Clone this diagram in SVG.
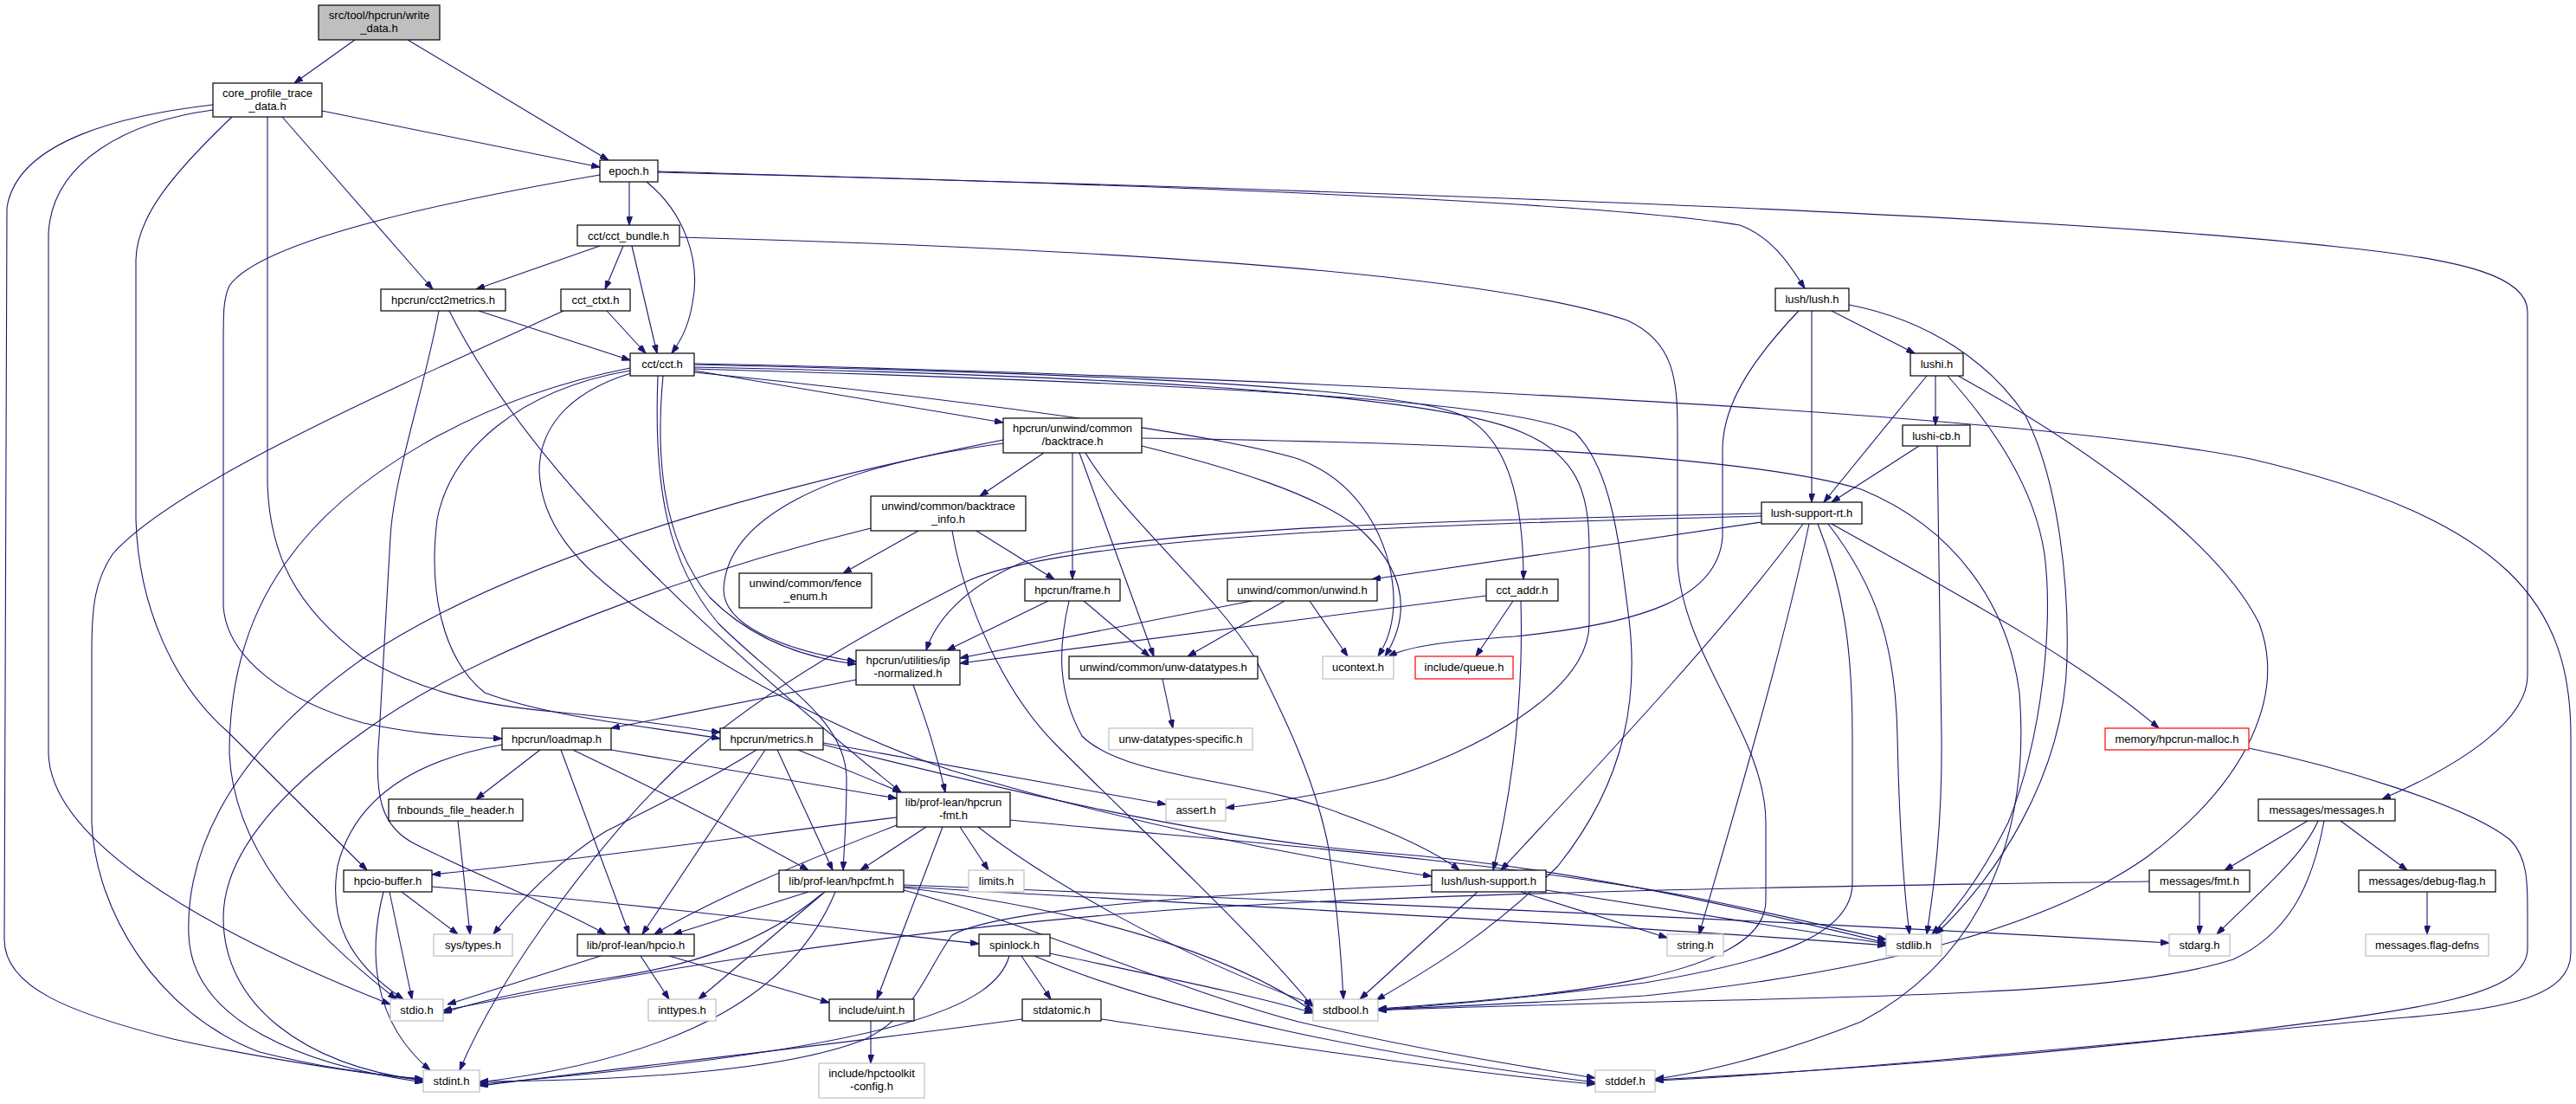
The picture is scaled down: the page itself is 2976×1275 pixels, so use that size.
<svg xmlns="http://www.w3.org/2000/svg" width="2976" height="1275" viewBox="0 0 2976 1275">
<defs>
<style>
.e path{fill:none;stroke:#191970;stroke-width:1.1;marker-end:url(#a)}
.n rect{fill:#fff;stroke:#000;stroke-width:1.2}
.g rect{stroke:#bfbfbf}
.r rect{stroke:#ff0000}
.root rect{fill:#bfbfbf}
text{font-family:"Liberation Sans",Arial,sans-serif;font-size:13px;text-anchor:middle;fill:#000}
</style>
<marker id="a" viewBox="0 0 10 7" refX="10" refY="3.5" markerWidth="10" markerHeight="7" markerUnits="userSpaceOnUse" orient="auto"><path d="M0,0 L10,3.5 L0,7 z" fill="#191970" stroke="#191970" stroke-width="1"/></marker>
</defs>
<rect width="2976" height="1275" fill="#fff"/>
<g id="edges" class="e">
<path d="M410,46 L340,96"/>
<path d="M471,46 L703,185"/>
<path d="M372,128 L693,193"/>
<path d="M326,135 L500,334"/>
<path d="M246,121 C150,132 20,160 8,240 L5,1085 C5,1140 80,1170 200,1200 C300,1222 420,1240 489,1247"/>
<path d="M246,127 C150,140 60,185 56,270 L56,870 C58,960 200,1060 451,1160"/>
<path d="M268,135 C200,200 158,250 157,300 L157,600 C160,700 200,790 263,845 L424,1005"/>
<path d="M309,135 L309,560 C312,640 340,700 420,760 C490,800 560,815 640,822 C720,830 780,838 832,846"/>
<path d="M727,210 L727,260"/>
<path d="M747,210 C790,245 810,300 800,350 C795,380 785,395 776,408"/>
<path d="M693,202 C500,235 300,280 265,330 C258,345 258,360 258,400 L258,700 C262,760 330,810 420,835 C480,848 530,851 580,853"/>
<path d="M760,198 C1000,205 1800,225 2010,260 C2050,275 2070,310 2085,333"/>
<path d="M760,199 C1200,210 2300,240 2700,285 C2850,300 2920,320 2920,360 L2920,780 C2920,830 2850,880 2752,923"/>
<path d="M693,284 L550,334"/>
<path d="M720,284 L699,334"/>
<path d="M730,284 L759,408"/>
<path d="M785,274 C1200,285 1700,310 1880,370 C1935,395 1938,440 1938,500 L1938,650 C1945,760 2040,850 2040,950 L2040,1040 C2040,1130 1800,1150 1592,1165"/>
<path d="M553,359 L728,416"/>
<path d="M519,359 C620,560 850,760 1041,915"/>
<path d="M507,359 C490,450 455,550 451,620 L438,850 C432,920 440,955 480,975 C560,1015 650,1050 700,1079"/>
<path d="M728,428 C600,450 520,520 505,600 C495,680 510,760 560,800 C640,830 760,840 832,853"/>
<path d="M802,428 L1159,488"/>
<path d="M802,421 C1100,428 1600,440 1690,480 C1750,510 1760,600 1760,669"/>
<path d="M802,430 C1100,460 1400,500 1500,530 C1580,560 1612,640 1610,700 C1608,730 1600,745 1592,758"/>
<path d="M802,424 C1200,432 1650,450 1760,500 C1830,530 1836,580 1836,640 L1836,720 C1836,800 1700,870 1600,900 C1520,920 1460,928 1416,933"/>
<path d="M802,426 C1300,440 1750,460 1820,500 C1860,540 1870,620 1880,700 C1895,800 1880,900 1800,1000 C1720,1080 1650,1120 1590,1155"/>
<path d="M802,420 C1300,430 2300,470 2600,530 C2900,600 2970,700 2970,850 L2970,1100 C2970,1150 2900,1165 2780,1175 C2500,1200 2100,1240 1912,1248"/>
<path d="M728,425 C550,460 400,550 330,650 C280,720 265,800 265,870 C270,980 350,1070 458,1154"/>
<path d="M766,434 C758,520 762,620 820,690 C870,740 930,760 989,767"/>
<path d="M760,434 C755,560 770,650 830,720 C900,790 978,830 978,900 C978,950 975,980 974,1005"/>
<path d="M729,431 C650,455 623,500 623,544 C625,600 660,650 740,705 C820,760 950,840 1100,890 C1300,950 1500,990 1654,1012"/>
<path d="M1206,523 L1132,573"/>
<path d="M1239,523 L1239,669"/>
<path d="M1247,523 L1333,758"/>
<path d="M1254,523 C1300,600 1400,680 1450,760 C1480,820 1520,900 1535,980 C1545,1050 1550,1110 1552,1154"/>
<path d="M1319,515 C1420,540 1520,570 1570,610 C1625,660 1630,710 1600,758"/>
<path d="M1319,506 C1600,510 2000,520 2150,565 C2260,610 2320,700 2333,800 C2345,950 2300,1100 2150,1180 C2050,1220 1960,1240 1912,1246"/>
<path d="M1159,512 C950,540 840,600 836,680 C835,720 900,750 989,764"/>
<path d="M1159,508 C900,560 600,640 420,760 C250,880 215,1000 218,1080 C222,1180 350,1230 489,1250"/>
<path d="M1061,613 L974,662"/>
<path d="M1128,613 L1218,669"/>
<path d="M1006,610 C800,660 550,750 420,845 C300,930 258,1000 258,1060 C258,1160 350,1230 489,1248"/>
<path d="M1100,613 C1115,700 1160,800 1220,860 C1320,960 1450,1080 1517,1163"/>
<path d="M1211,694 L1094,751"/>
<path d="M1252,694 L1328,758"/>
<path d="M1235,694 C1222,750 1222,800 1250,850 C1300,900 1450,900 1550,940 C1620,965 1660,985 1686,1005"/>
<path d="M1446,694 L1109,760"/>
<path d="M1484,694 L1372,758"/>
<path d="M1513,694 L1557,758"/>
<path d="M1717,688 L1109,766"/>
<path d="M1748,694 L1705,758"/>
<path d="M1757,694 C1760,800 1750,900 1725,1005"/>
<path d="M2093,359 L2093,580"/>
<path d="M2116,359 L2212,408"/>
<path d="M2078,359 C2020,420 1990,470 1990,520 L1990,620 C1985,690 1900,720 1750,735 C1680,740 1630,745 1604,758"/>
<path d="M2136,352 C2230,370 2300,420 2340,480 C2380,560 2390,680 2388,760 C2385,900 2300,1020 2236,1079"/>
<path d="M2236,434 L2236,491"/>
<path d="M2226,434 L2107,580"/>
<path d="M2250,434 C2300,490 2350,560 2362,640 C2372,720 2360,850 2320,950 C2290,1010 2260,1050 2232,1079"/>
<path d="M2262,434 C2400,510 2560,620 2610,720 C2640,800 2600,900 2480,990 C2380,1060 2200,1120 1900,1150 C1750,1160 1650,1163 1592,1166"/>
<path d="M2217,515 L2116,580"/>
<path d="M2238,515 L2243,850 C2244,950 2235,1020 2226,1079"/>
<path d="M2035,593 C1700,600 1300,610 1180,650 C1110,680 1080,720 1070,751"/>
<path d="M2035,596 C1700,605 1250,615 1120,670 C1000,730 880,800 800,870 C700,960 580,1120 531,1236"/>
<path d="M2035,603 L1585,669"/>
<path d="M2116,605 C2250,680 2400,760 2494,841"/>
<path d="M2083,605 C2000,720 1850,880 1734,1005"/>
<path d="M2090,605 C2060,750 2000,950 1963,1079"/>
<path d="M2100,605 C2130,680 2140,750 2140,850 L2140,1020 C2140,1080 2050,1110 1900,1135 C1750,1155 1650,1162 1592,1166"/>
<path d="M2112,605 C2170,680 2190,750 2192,850 C2194,950 2200,1030 2206,1079"/>
<path d="M2598,864 C2700,885 2850,930 2900,970 C2920,990 2920,1020 2920,1050 L2920,1095 C2920,1150 2800,1165 2600,1190 C2300,1225 2050,1240 1912,1247"/>
<path d="M2666,948 L2570,1005"/>
<path d="M2704,948 L2781,1005"/>
<path d="M2678,948 C2660,990 2610,1030 2561,1079"/>
<path d="M2685,948 C2670,1030 2640,1080 2580,1108 C2480,1140 2300,1148 2000,1155 C1800,1160 1650,1164 1592,1167"/>
<path d="M2541,1030 L2541,1079"/>
<path d="M2483,1018 C2200,1022 1600,1030 1300,1055 C1000,1080 750,1120 512,1167"/>
<path d="M2804,1030 L2804,1079"/>
<path d="M951,858 L1347,929"/>
<path d="M922,866 L1041,915"/>
<path d="M898,866 L962,1005"/>
<path d="M884,866 L742,1079"/>
<path d="M874,866 C820,900 760,930 700,960 C650,990 600,1040 570,1079"/>
<path d="M951,860 C1150,910 1400,970 1600,985 C1800,1000 2000,1045 2179,1089"/>
<path d="M624,866 L550,923"/>
<path d="M648,866 L727,1079"/>
<path d="M706,866 L1036,922"/>
<path d="M662,866 C700,885 800,930 934,1005"/>
<path d="M580,860 C480,878 410,920 390,1000 C380,1060 400,1110 466,1154"/>
<path d="M529,948 L543,1079"/>
<path d="M1070,955 L994,1005"/>
<path d="M1109,955 L1142,1005"/>
<path d="M1089,955 L1013,1154"/>
<path d="M1036,944 C900,960 700,990 499,1010"/>
<path d="M1036,953 C940,990 820,1040 756,1079"/>
<path d="M1167,947 C1400,970 1700,990 1950,1035 C2050,1055 2120,1072 2179,1085"/>
<path d="M1130,955 C1200,1010 1350,1100 1517,1160"/>
<path d="M464,1030 L529,1079"/>
<path d="M450,1030 L476,1154"/>
<path d="M443,1030 C425,1100 430,1180 497,1236"/>
<path d="M499,1024 C700,1040 950,1070 1131,1090"/>
<path d="M934,1030 L778,1079"/>
<path d="M953,1030 L807,1154"/>
<path d="M950,1032 C880,1090 800,1115 700,1130 C600,1145 540,1160 512,1170"/>
<path d="M965,1030 C920,1140 800,1220 554,1250"/>
<path d="M1044,1025 C1250,1050 1420,1100 1517,1168"/>
<path d="M1044,1028 C1200,1070 1350,1140 1500,1180 C1650,1215 1780,1235 1843,1245"/>
<path d="M1044,1022 C1500,1040 2000,1060 2506,1089"/>
<path d="M1044,1024 C1400,1045 1900,1070 2179,1092"/>
<path d="M694,1104 L517,1160"/>
<path d="M740,1104 L773,1154"/>
<path d="M773,1104 L958,1158"/>
<path d="M1180,1104 L1214,1154"/>
<path d="M1213,1101 C1350,1130 1450,1150 1517,1170"/>
<path d="M1166,1104 C1150,1160 1050,1210 554,1252"/>
<path d="M1195,1104 C1350,1170 1600,1220 1843,1250"/>
<path d="M1181,1177 C900,1215 700,1235 554,1254"/>
<path d="M1272,1177 C1500,1210 1700,1240 1843,1252"/>
<path d="M1006,1179 L1006,1228"/>
<path d="M1707,1030 L1571,1154"/>
<path d="M1757,1030 L1926,1083"/>
<path d="M1786,1028 L2179,1090"/>
<path d="M1654,1022 C1400,1032 1150,1050 1100,1080 C1070,1120 1060,1170 1000,1200 C900,1240 700,1248 554,1249"/>
<path d="M989,785 L706,841"/>
<path d="M1055,791 C1065,820 1080,860 1092,915"/>
<path d="M701,359 L746,408"/>
<path d="M651,359 C450,450 200,560 130,640 C110,670 106,700 106,750 L106,950 C110,1050 180,1170 300,1215 C380,1235 440,1242 489,1246"/>
<path d="M1343,784 L1355,841"/>
</g>
<g id="write_data" class="n root"><rect x="368" y="6" width="140" height="40"/><text x="438" y="21.5">src/tool/hpcrun/write</text><text x="438" y="36.5">_data.h</text></g>
<g id="core_profile_trace_data" class="n"><rect x="246" y="96" width="126" height="39"/><text x="309" y="111.5">core_profile_trace</text><text x="309" y="126.5">_data.h</text></g>
<g id="epoch" class="n"><rect x="693" y="185" width="67" height="25"/><text x="726.5" y="202">epoch.h</text></g>
<g id="cct_bundle" class="n"><rect x="667" y="260" width="118" height="24"/><text x="726" y="277">cct/cct_bundle.h</text></g>
<g id="cct2metrics" class="n"><rect x="440" y="334" width="144" height="25"/><text x="512" y="351">hpcrun/cct2metrics.h</text></g>
<g id="cct_ctxt" class="n"><rect x="648" y="334" width="80" height="25"/><text x="688" y="351">cct_ctxt.h</text></g>
<g id="cct" class="n"><rect x="728" y="408" width="74" height="26"/><text x="765" y="425">cct/cct.h</text></g>
<g id="lush" class="n"><rect x="2051" y="333" width="85" height="26"/><text x="2093.5" y="350">lush/lush.h</text></g>
<g id="lushi" class="n"><rect x="2207" y="408" width="61" height="26"/><text x="2237.5" y="425">lushi.h</text></g>
<g id="lushi_cb" class="n"><rect x="2198" y="491" width="78" height="24"/><text x="2237" y="508">lushi-cb.h</text></g>
<g id="backtrace" class="n"><rect x="1159" y="483" width="160" height="40"/><text x="1239" y="498.5">hpcrun/unwind/common</text><text x="1239" y="513.5">/backtrace.h</text></g>
<g id="lush_support_rt" class="n"><rect x="2035" y="580" width="116" height="25"/><text x="2093" y="597">lush-support-rt.h</text></g>
<g id="backtrace_info" class="n"><rect x="1006" y="573" width="179" height="40"/><text x="1095.5" y="588.5">unwind/common/backtrace</text><text x="1095.5" y="603.5">_info.h</text></g>
<g id="fence_enum" class="n"><rect x="854" y="662" width="153" height="40"/><text x="930.5" y="677.5">unwind/common/fence</text><text x="930.5" y="692.5">_enum.h</text></g>
<g id="frame" class="n"><rect x="1184" y="669" width="110" height="25"/><text x="1239" y="686">hpcrun/frame.h</text></g>
<g id="unwind" class="n"><rect x="1418" y="669" width="173" height="25"/><text x="1504.5" y="686">unwind/common/unwind.h</text></g>
<g id="cct_addr" class="n"><rect x="1717" y="669" width="83" height="25"/><text x="1758.5" y="686">cct_addr.h</text></g>
<g id="ip_normalized" class="n"><rect x="989" y="751" width="120" height="40"/><text x="1049" y="766.5">hpcrun/utilities/ip</text><text x="1049" y="781.5">-normalized.h</text></g>
<g id="unw_datatypes" class="n"><rect x="1235" y="758" width="218" height="26"/><text x="1344" y="775">unwind/common/unw-datatypes.h</text></g>
<g id="ucontext" class="n g"><rect x="1528" y="758" width="82" height="26"/><text x="1569" y="775">ucontext.h</text></g>
<g id="queue" class="n r"><rect x="1635" y="758" width="113" height="26"/><text x="1691.5" y="775">include/queue.h</text></g>
<g id="unw_datatypes_specific" class="n g"><rect x="1281" y="841" width="166" height="25"/><text x="1364" y="858">unw-datatypes-specific.h</text></g>
<g id="loadmap" class="n"><rect x="580" y="841" width="126" height="25"/><text x="643" y="858">hpcrun/loadmap.h</text></g>
<g id="metrics" class="n"><rect x="832" y="841" width="119" height="25"/><text x="891.5" y="858">hpcrun/metrics.h</text></g>
<g id="hpcrun_malloc" class="n r"><rect x="2432" y="841" width="166" height="25"/><text x="2515" y="858">memory/hpcrun-malloc.h</text></g>
<g id="fnbounds" class="n"><rect x="449" y="923" width="155" height="25"/><text x="526.5" y="940">fnbounds_file_header.h</text></g>
<g id="hpcrun_fmt" class="n"><rect x="1036" y="915" width="131" height="40"/><text x="1101.5" y="930.5">lib/prof-lean/hpcrun</text><text x="1101.5" y="945.5">-fmt.h</text></g>
<g id="assert" class="n g"><rect x="1347" y="923" width="69" height="25"/><text x="1381.5" y="940">assert.h</text></g>
<g id="messages" class="n"><rect x="2609" y="923" width="158" height="25"/><text x="2688" y="940">messages/messages.h</text></g>
<g id="hpcio_buffer" class="n"><rect x="397" y="1005" width="102" height="25"/><text x="448" y="1022">hpcio-buffer.h</text></g>
<g id="hpcfmt" class="n"><rect x="900" y="1005" width="144" height="25"/><text x="972" y="1022">lib/prof-lean/hpcfmt.h</text></g>
<g id="limits" class="n g"><rect x="1119" y="1005" width="64" height="25"/><text x="1151" y="1022">limits.h</text></g>
<g id="lush_support" class="n"><rect x="1654" y="1005" width="132" height="25"/><text x="1720" y="1022">lush/lush-support.h</text></g>
<g id="messages_fmt" class="n"><rect x="2483" y="1005" width="116" height="25"/><text x="2541" y="1022">messages/fmt.h</text></g>
<g id="debug_flag" class="n"><rect x="2725" y="1005" width="158" height="25"/><text x="2804" y="1022">messages/debug-flag.h</text></g>
<g id="sys_types" class="n g"><rect x="501" y="1079" width="91" height="25"/><text x="546.5" y="1096">sys/types.h</text></g>
<g id="hpcio" class="n"><rect x="667" y="1079" width="135" height="25"/><text x="734.5" y="1096">lib/prof-lean/hpcio.h</text></g>
<g id="spinlock" class="n"><rect x="1131" y="1079" width="82" height="25"/><text x="1172" y="1096">spinlock.h</text></g>
<g id="string" class="n g"><rect x="1926" y="1079" width="65" height="25"/><text x="1958.5" y="1096">string.h</text></g>
<g id="stdlib" class="n g"><rect x="2179" y="1079" width="64" height="25"/><text x="2211" y="1096">stdlib.h</text></g>
<g id="stdarg" class="n g"><rect x="2506" y="1079" width="70" height="25"/><text x="2541" y="1096">stdarg.h</text></g>
<g id="flag_defns" class="n g"><rect x="2733" y="1079" width="142" height="25"/><text x="2804" y="1096">messages.flag-defns</text></g>
<g id="stdio" class="n g"><rect x="451" y="1154" width="61" height="25"/><text x="481.5" y="1171">stdio.h</text></g>
<g id="inttypes" class="n g"><rect x="749" y="1154" width="78" height="25"/><text x="788" y="1171">inttypes.h</text></g>
<g id="uint" class="n"><rect x="958" y="1154" width="98" height="25"/><text x="1007" y="1171">include/uint.h</text></g>
<g id="stdbool" class="n g"><rect x="1517" y="1154" width="75" height="25"/><text x="1554.5" y="1171">stdbool.h</text></g>
<g id="stdatomic" class="n"><rect x="1181" y="1154" width="91" height="25"/><text x="1226.5" y="1171">stdatomic.h</text></g>
<g id="stdint" class="n g"><rect x="489" y="1236" width="65" height="25"/><text x="521.5" y="1253">stdint.h</text></g>
<g id="hpctoolkit_config" class="n g"><rect x="946" y="1228" width="122" height="40"/><text x="1007" y="1243.5">include/hpctoolkit</text><text x="1007" y="1258.5">-config.h</text></g>
<g id="stddef" class="n g"><rect x="1843" y="1236" width="69" height="25"/><text x="1877.5" y="1253">stddef.h</text></g>
</svg>
